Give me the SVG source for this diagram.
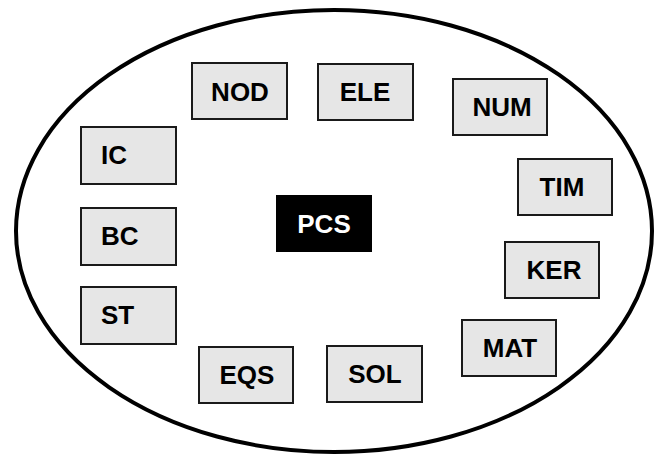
<svg xmlns="http://www.w3.org/2000/svg" width="661" height="456" viewBox="0 0 661 456">
<style>
.b{fill:#e6e6e6;stroke:#1a1a1a;stroke-width:2}
.t{font-family:"Liberation Sans",Arial,sans-serif;font-weight:bold;font-size:26px;fill:#000;text-anchor:middle}
.l{text-anchor:start}
</style>
<rect width="661" height="456" fill="#fff"/>
<ellipse cx="334" cy="231" rx="318" ry="221" fill="none" stroke="#000" stroke-width="4"/>
<g id="connectors"/>
<g id="PCS"><rect x="276" y="195" width="96" height="57" fill="#000"/><text class="t" x="324" y="233" style="fill:#fff">PCS</text></g>
<g id="NOD"><rect class="b" x="192" y="63" width="95" height="56"/><text class="t" x="240" y="101">NOD</text></g>
<g id="ELE"><rect class="b" x="318" y="64" width="95" height="56"/><text class="t" x="365" y="101">ELE</text></g>
<g id="NUM"><rect class="b" x="453" y="79" width="94" height="56"/><text class="t" x="502" y="116">NUM</text></g>
<g id="TIM"><rect class="b" x="518" y="159" width="94" height="56"/><text class="t" x="562" y="196">TIM</text></g>
<g id="KER"><rect class="b" x="505" y="242" width="94" height="56"/><text class="t" x="554" y="279">KER</text></g>
<g id="MAT"><rect class="b" x="462" y="320" width="94" height="56"/><text class="t" x="510" y="357">MAT</text></g>
<g id="SOL"><rect class="b" x="327" y="346" width="95" height="56"/><text class="t" x="375" y="383">SOL</text></g>
<g id="EQS"><rect class="b" x="199" y="347" width="94" height="56"/><text class="t" x="247" y="384">EQS</text></g>
<g id="IC"><rect class="b" x="81" y="127" width="95" height="57"/><text class="t l" x="101" y="164">IC</text></g>
<g id="BC"><rect class="b" x="81" y="208" width="95" height="57"/><text class="t l" x="101" y="245">BC</text></g>
<g id="ST"><rect class="b" x="81" y="287" width="95" height="57"/><text class="t l" x="101" y="324">ST</text></g>
</svg>
